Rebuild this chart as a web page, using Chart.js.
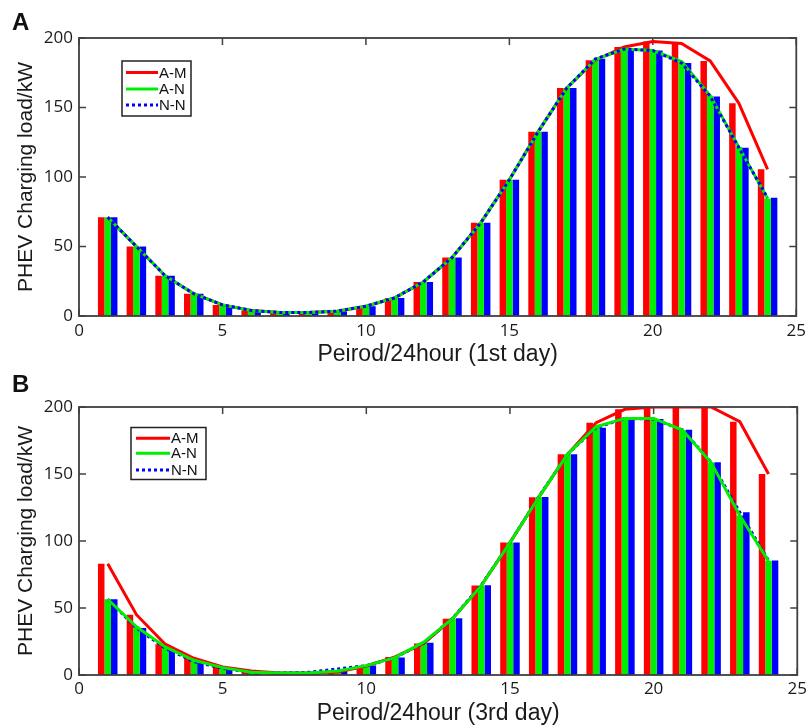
<!DOCTYPE html>
<html><head><meta charset="utf-8">
<script src="https://cdn.jsdelivr.net/npm/chart.js@4.4.0/dist/chart.umd.min.js"></script>
<style>
html,body{margin:0;padding:0;background:#fff;}
#wrap{position:relative;width:811px;height:728px;overflow:hidden;}
.panel{position:absolute;left:0;width:811px;}
#pA{top:0;height:370px;}
#pB{top:370px;height:358px;}
.lbl{position:absolute;left:12px;font:bold 24px "Liberation Sans",Arial,sans-serif;line-height:24px;color:#111;}
</style></head>
<body>
<div id="wrap">
<div class="panel" id="pA"><canvas id="cA" width="811" height="370"></canvas></div>
<div class="panel" id="pB"><canvas id="cB" width="811" height="358"></canvas></div>
<div class="lbl" style="top:10px">A</div>
<div class="lbl" style="top:372px">B</div>
</div>
<script>
// ---- data ----
const hours = [1,2,3,4,5,6,7,8,9,10,11,12,13,14,15,16,17,18,19,20,21,22,23,24];
const seriesNames = ['A-M','A-N','N-N'];
const xTicks = [0,5,10,15,20,25];
const yTicks = [0,50,100,150,200];

const day1_AM = [71,50,29,16,8,4,2.5,2.5,3.5,7,13,24.5,42,67,98,132.5,164,184,193.5,197.5,196,183.5,153,105.5];
const day1_AN = [71,50,29,16,8,4,2.5,2.5,3.5,7,13,24.5,42,67,98,132.5,164,184.5,192,191,183,158.5,121.5,84.5];
const day1_NN = [71,50,29,16,8,4,2.5,2.5,3.5,7,13,24.5,42,67,98,132.5,164,185,192,191,182,158,121,85];

const day3_AM = [83,45,23,12.5,6,3,1.5,1.5,2.2,6.7,13.5,23.6,42,66.7,98.8,132.6,164.7,188.3,198.3,200,200,200,189,150];
const day3_AN = [56.5,36,21,11,5.5,2,1.5,1.5,3,7,13,24.5,42,66.7,98.8,132.6,164.7,185.3,191.5,191.5,182.8,158.5,119,85];
const day3_NN = [56.5,35,20,10,5,2,1.5,2,4.5,7,13,24,42.3,67,98.8,132.9,164.7,184.6,191.5,191,183,158.8,121.4,85.4];

const COLORS = ['#ff0000','#00ee00','#0000ff'];
const FONT = '"Liberation Sans", Arial, sans-serif';
const TICKFONT = '"Open Sans", Arial, sans-serif';

const frame = {
  id:'frame',
  beforeDatasetsDraw(chart){
    const {ctx, chartArea:{left,right,top,bottom}, scales:{x,y}} = chart;
    ctx.save();
    ctx.strokeStyle='#404040'; ctx.lineWidth=1.5;
    ctx.beginPath();
    x.ticks.forEach(t=>{const p=x.getPixelForValue(t.value);
      ctx.moveTo(p,top); ctx.lineTo(p,top+7); ctx.moveTo(p,bottom); ctx.lineTo(p,bottom-7);});
    y.ticks.forEach(t=>{const p=y.getPixelForValue(t.value);
      ctx.moveTo(left,p); ctx.lineTo(left+7,p); ctx.moveTo(right,p); ctx.lineTo(right-7,p);});
    ctx.stroke();
    ctx.restore();
  },
  afterDatasetsDraw(chart){
    const {ctx, chartArea:{left,right,top,bottom}} = chart;
    ctx.save();
    ctx.strokeStyle='#404040'; ctx.lineWidth=1.8;
    ctx.strokeRect(left,top,right-left,bottom-top);
    ctx.restore();
  }
};

const legendBox = {
  id:'legendBox',
  afterDraw(chart, args, o){
    const ctx = chart.ctx;
    const items = chart.data.datasets.filter(d=>d.type==='line')
      .sort((a,b)=>seriesNames.indexOf(a.label)-seriesNames.indexOf(b.label));
    ctx.save();
    ctx.fillStyle='#fff'; ctx.fillRect(o.x,o.y,o.w,o.h);
    ctx.strokeStyle='#222'; ctx.lineWidth=1.5; ctx.strokeRect(o.x,o.y,o.w,o.h);
    items.forEach((d,i)=>{
      const yy = o.rows[i];
      ctx.beginPath();
      ctx.setLineDash(d.borderDash||[]);
      ctx.strokeStyle=d.borderColor; ctx.lineWidth=3;
      ctx.moveTo(o.lx0,yy); ctx.lineTo(o.lx1,yy); ctx.stroke();
      ctx.setLineDash([]);
      ctx.fillStyle='#111'; ctx.font='15px '+FONT; ctx.textBaseline='middle'; ctx.textAlign='left';
      ctx.fillText(d.label, o.tx, yy+1);
    });
    ctx.restore();
  }
};

function pts(arr){ return hours.map((h,i)=>({x:h,y:arr[i]})); }

function makePanel(id, xTitle, am, an, nn, lg, lay, nnOnTop){
  const vals = [am,an,nn];
  const bars = vals.map((v,i)=>({
    type:'bar', label:seriesNames[i]+' bar', data:pts(v), backgroundColor:COLORS[i],
    borderWidth:0, categoryPercentage:0.68, barPercentage:1.0, order:5
  }));
  const lines = vals.map((v,i)=>({
    type:'line', label:seriesNames[i], data:pts(v), borderColor:COLORS[i], backgroundColor:COLORS[i],
    borderWidth:3, pointRadius:0, tension:0, fill:false,
    borderDash: i===2 ? [3,3] : [],
    order: i===0 ? 3 : (i===1 ? (nnOnTop?2:1) : (nnOnTop?1:2))
  }));
  return new Chart(document.getElementById(id), {
    data:{ datasets:[...lines, ...bars] },
    options:{
      responsive:false, animation:false,
      layout:{padding:{top:lay.top,right:lay.right,left:0,bottom:0}},
      plugins:{ legend:{display:false}, tooltip:{enabled:false}, legendBox:lg },
      scales:{
        x:{ type:'linear', min:0, max:25, offset:false,
          afterBuildTicks(s){ s.ticks = xTicks.map(v=>({value:v})); },
          afterFit(s){ s.height = lay.xh; },
          grid:{display:false, drawTicks:false}, border:{display:false},
          ticks:{ padding:lay.tp, color:'#1a1a1a', font:{family:TICKFONT, size:17}, maxRotation:0 },
          title:{ display:true, text:xTitle, color:'#1a1a1a', font:{family:FONT, size:23}, padding:{top:0,bottom:lay.tpb} }
        },
        y:{ type:'linear', min:0, max:200,
          afterBuildTicks(s){ s.ticks = yTicks.map(v=>({value:v})); },
          afterFit(s){ s.width = 79; },
          grid:{display:false, drawTicks:false}, border:{display:false},
          ticks:{ padding:6, color:'#1a1a1a', font:{family:TICKFONT, size:17} },
          title:{ display:true, text:'PHEV Charging load/kW', color:'#1a1a1a', font:{family:FONT, size:21}, padding:{top:14,bottom:0} }
        }
      }
    },
    plugins:[frame, legendBox]
  });
}

makePanel('cA','Peirod/24hour (1st day)', day1_AM, day1_AN, day1_NN,
  {x:122,y:61,w:69,h:55,rows:[72.5,89,105],lx0:126,lx1:158,tx:159},
  {top:38,right:14,xh:54,tp:5,tpb:2}, true);
makePanel('cB','Peirod/24hour (3rd day)', day3_AM, day3_AN, day3_NN,
  {x:131,y:57.5,w:75,h:52,rows:[68.3,83.3,100],lx0:136,lx1:170,tx:171},
  {top:37,right:12,xh:53,tp:4,tpb:1}, false);
</script>
</body></html>
